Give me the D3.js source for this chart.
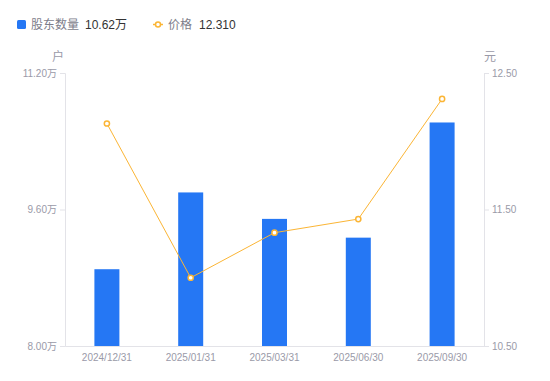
<!DOCTYPE html>
<html lang="zh">
  <head>
    <meta charset="UTF-8" />
    <title>股东数量与价格</title>
    <style>
      body {
        margin: 0;
        background: #fff;
        font-family: "Liberation Sans", "Noto Sans CJK SC", sans-serif;
      }
    </style>
  </head>
  <body>
    <div id="chart"></div>
    <script src="https://cdn.jsdelivr.net/npm/d3@7/dist/d3.min.js"></script>
    <script>
      const dates = ["2024/12/31", "2025/01/31", "2025/03/31", "2025/06/30", "2025/09/30"];
      const holders = [8.9, 9.8, 9.49, 9.27, 10.62]; // 万户
      const prices = [12.13, 11.0, 11.33, 11.43, 12.31];
      const leftTicks = [8.0, 9.6, 11.2];
      const rightTicks = [10.5, 11.5, 12.5];

      const width = 550,
        height = 381,
        margin = { top: 73, right: 66, bottom: 35, left: 65 };
      const fontStack = "'Liberation Sans', 'Noto Sans CJK SC', sans-serif";

      const svg = d3
        .select("#chart")
        .append("svg")
        .attr("width", width)
        .attr("height", height)
        .style("font-family", fontStack);

      const x = d3
        .scaleBand()
        .domain(dates)
        .range([margin.left, width - margin.right]);
      const yL = d3
        .scaleLinear()
        .domain([8.0, 11.2])
        .range([height - margin.bottom, margin.top]);
      const yR = d3
        .scaleLinear()
        .domain([10.5, 12.5])
        .range([height - margin.bottom, margin.top]);

      const grey = "#9a9aa8";
      const lineGrey = "#e3e3e8";

      // left axis
      const gL = svg
        .append("g")
        .attr("transform", `translate(${margin.left},0)`)
        .call(
          d3.axisLeft(yL).tickValues(leftTicks).tickSize(5).tickFormat((d) => d.toFixed(2) + "万")
        );
      // right axis
      const gR = svg
        .append("g")
        .attr("transform", `translate(${width - margin.right},0)`)
        .call(d3.axisRight(yR).tickValues(rightTicks).tickSize(5).tickFormat((d) => d.toFixed(2)));
      // bottom axis
      const gB = svg
        .append("g")
        .attr("transform", `translate(0,${height - margin.bottom})`)
        .call(d3.axisBottom(x).tickSize(0).tickPadding(8));

      [gL, gR, gB].forEach((g) => {
        g.select(".domain").attr("stroke", lineGrey);
        g.selectAll(".tick line").attr("stroke", lineGrey);
        g.selectAll("text")
          .attr("fill", grey)
          .style("font-family", fontStack)
          .style("font-size", "10px");
      });

      svg
        .append("text")
        .attr("x", 58)
        .attr("y", 61)
        .attr("text-anchor", "middle")
        .attr("fill", grey)
        .style("font-size", "12px")
        .text("户");
      svg
        .append("text")
        .attr("x", 490)
        .attr("y", 61)
        .attr("text-anchor", "middle")
        .attr("fill", grey)
        .style("font-size", "12px")
        .text("元");

      // bars
      const barW = 25;
      svg
        .selectAll("rect.bar")
        .data(holders)
        .enter()
        .append("rect")
        .attr("class", "bar")
        .attr("x", (d, i) => x(dates[i]) + x.bandwidth() / 2 - barW / 2)
        .attr("y", (d) => yL(d))
        .attr("width", barW)
        .attr("height", (d) => yL(8.0) - yL(d))
        .attr("fill", "#2577f4");

      // price line
      const line = d3
        .line()
        .x((d, i) => x(dates[i]) + x.bandwidth() / 2)
        .y((d) => yR(d));
      svg
        .append("path")
        .datum(prices)
        .attr("d", line)
        .attr("fill", "none")
        .attr("stroke", "#fbb535")
        .attr("stroke-width", 1);
      svg
        .selectAll("circle.pt")
        .data(prices)
        .enter()
        .append("circle")
        .attr("class", "pt")
        .attr("cx", (d, i) => x(dates[i]) + x.bandwidth() / 2)
        .attr("cy", (d) => yR(d))
        .attr("r", 2.6)
        .attr("fill", "#fff")
        .attr("stroke", "#fbb535")
        .attr("stroke-width", 1.5);

      // legend
      const lg = svg.append("g").style("font-size", "12px");
      lg.append("rect").attr("x", 17).attr("y", 20).attr("width", 9).attr("height", 9).attr("rx", 1.5).attr("fill", "#2577f4");
      lg.append("text").attr("x", 31).attr("y", 29).attr("fill", "#7d7d8a").text("股东数量");
      lg.append("text").attr("x", 85).attr("y", 29).attr("fill", "#333").text(holders[4].toFixed(2) + "万");
      lg.append("line").attr("x1", 153).attr("x2", 163).attr("y1", 24.5).attr("y2", 24.5).attr("stroke", "#fbb535").attr("stroke-width", 1.5);
      lg.append("circle").attr("cx", 158).attr("cy", 24.5).attr("r", 2.5).attr("fill", "#fff").attr("stroke", "#fbb535").attr("stroke-width", 1.5);
      lg.append("text").attr("x", 168).attr("y", 29).attr("fill", "#7d7d8a").text("价格");
      lg.append("text").attr("x", 199).attr("y", 29).attr("fill", "#333").text(prices[4].toFixed(3));
    </script>
  </body>
</html>
